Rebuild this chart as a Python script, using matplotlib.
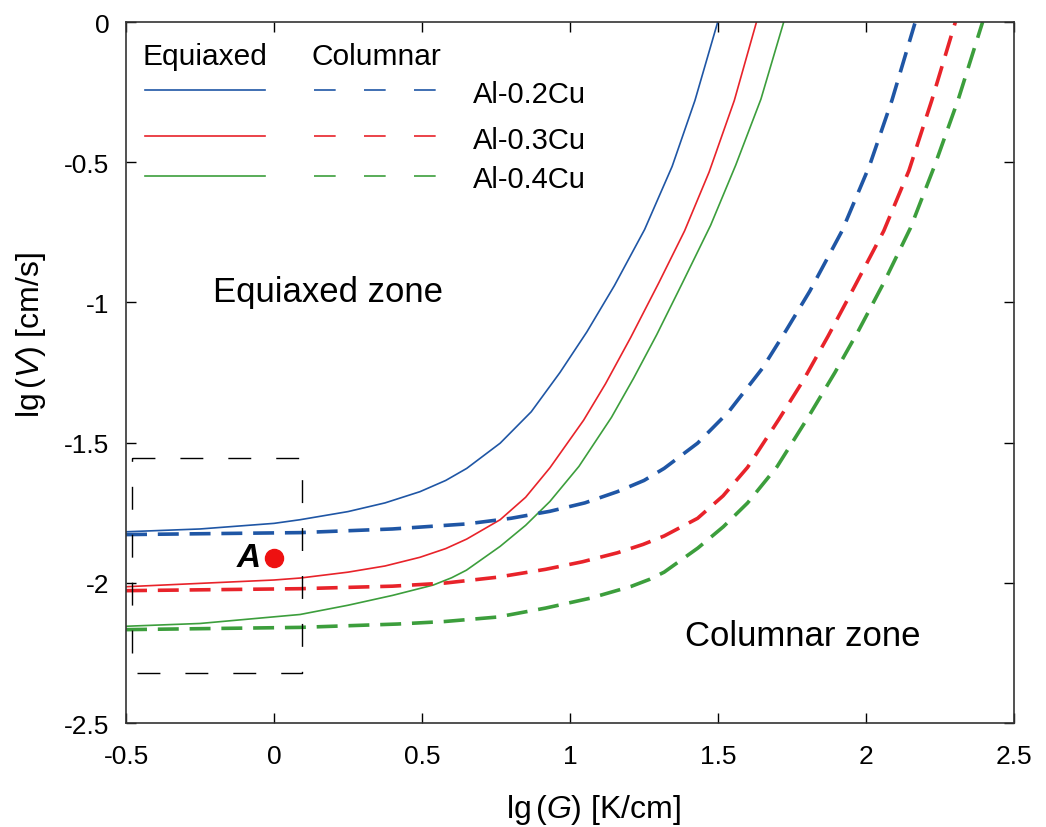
import matplotlib
matplotlib.use("Agg")
import matplotlib.pyplot as plt

plt.rcParams['font.family'] = ['Liberation Sans', 'DejaVu Sans']
plt.rcParams['mathtext.fontset'] = 'custom'
plt.rcParams['mathtext.rm'] = 'Liberation Sans'
plt.rcParams['mathtext.it'] = 'Liberation Sans:italic'

# ---- data (lg G, lg V) ----
alloys = ["Al-0.2Cu", "Al-0.3Cu", "Al-0.4Cu"]
colors = ["#1f56a5", "#e8232a", "#3c9e3c"]

# equiaxed limits (solid)
eq02_x = [-0.5, -0.25, 0.0, 0.088, 0.25, 0.375, 0.493, 0.58, 0.651, 0.764, 0.869, 0.966,
          1.057, 1.15, 1.252, 1.345, 1.422, 1.499]
eq02_y = [-1.818, -1.808, -1.788, -1.775, -1.746, -1.715, -1.675, -1.635, -1.592, -1.502,
          -1.39, -1.25, -1.105, -0.94, -0.74, -0.515, -0.28, 0.0]
eq03_x = [-0.5, 0.0, 0.088, 0.25, 0.375, 0.493, 0.58, 0.651, 0.764, 0.85, 0.932, 1.046,
          1.12, 1.205, 1.30, 1.387, 1.47, 1.555, 1.63]
eq03_y = [-2.014, -1.990, -1.983, -1.962, -1.94, -1.909, -1.878, -1.844, -1.775, -1.695,
          -1.59, -1.42, -1.29, -1.125, -0.93, -0.745, -0.535, -0.28, 0.0]
eq04_x = [-0.5, -0.25, 0.088, 0.25, 0.4, 0.538, 0.6, 0.65, 0.764, 0.85, 0.932, 1.03,
          1.14, 1.215, 1.293, 1.38, 1.475, 1.56, 1.645, 1.722]
eq04_y = [-2.155, -2.145, -2.113, -2.08, -2.045, -2.008, -1.982, -1.955, -1.87, -1.795,
          -1.71, -1.585, -1.41, -1.27, -1.115, -0.93, -0.725, -0.51, -0.275, 0.0]

# columnar limits (dashed)
co02_x = [-0.5, 0.088, 0.4, 0.651, 0.8, 0.932, 1.05, 1.16, 1.25, 1.318, 1.431, 1.536,
          1.65, 1.73, 1.81, 1.919, 2.012, 2.088, 2.165]
co02_y = [-1.828, -1.821, -1.808, -1.790, -1.770, -1.745, -1.715, -1.675, -1.635, -1.592,
          -1.502, -1.39, -1.235, -1.10, -0.96, -0.745, -0.512, -0.278, -0.005]
co03_x = [-0.5, 0.088, 0.4, 0.577, 0.755, 0.917, 1.042, 1.16, 1.247, 1.318, 1.431, 1.517,
          1.60, 1.705, 1.787, 1.872, 1.963, 2.06, 2.145, 2.222, 2.302]
co03_y = [-2.028, -2.021, -2.012, -2.001, -1.98, -1.952, -1.925, -1.893, -1.863, -1.833,
          -1.77, -1.69, -1.588, -1.418, -1.28, -1.12, -0.94, -0.745, -0.53, -0.28, 0.0]
co04_x = [-0.5, 0.088, 0.418, 0.577, 0.756, 0.918, 1.068, 1.206, 1.268, 1.318, 1.432, 1.518,
          1.60, 1.70, 1.806, 1.895, 1.975, 2.06, 2.15, 2.232, 2.312, 2.394]
co04_y = [-2.167, -2.159, -2.147, -2.138, -2.122, -2.09, -2.055, -2.013, -1.988, -1.962,
          -1.876, -1.80, -1.715, -1.585, -1.407, -1.25, -1.10, -0.93, -0.735, -0.512, -0.275, 0.0]

point_A = (0.0, -1.91)
box_x = [-0.481, 0.094]
box_y = [-2.322, -1.555]

xticks = [-0.5, 0, 0.5, 1, 1.5, 2, 2.5]
xticklabels = ["-0.5", "0", "0.5", "1", "1.5", "2", "2.5"]
yticks = [0, -0.5, -1, -1.5, -2, -2.5]
yticklabels = ["0", "-0.5", "-1", "-1.5", "-2", "-2.5"]

fig = plt.figure(figsize=(10.46, 8.28), dpi=100)
ax = fig.add_axes([0.1205, 0.1256, 0.8489, 0.8466])

eq = [(eq02_x, eq02_y), (eq03_x, eq03_y), (eq04_x, eq04_y)]
co = [(co02_x, co02_y), (co03_x, co03_y), (co04_x, co04_y)]
for (x, y), c in zip(eq, colors):
    ax.plot(x, y, color=c, lw=1.2, solid_joinstyle='round')
for (x, y), c in zip(co, colors):
    ax.plot(x, y, color=c, lw=2.6, dashes=(5.8, 3.0), dash_joinstyle='round')

# dashed box
bx = [box_x[0], box_x[1], box_x[1], box_x[0], box_x[0]]
by = [box_y[1], box_y[1], box_y[0], box_y[0], box_y[1]]
ax.plot(bx, by, color='black', lw=1.0, dashes=(16.5, 18))

ax.plot([point_A[0]], [point_A[1]], 'o', color='#ee1111', ms=13)
ax.text(point_A[0] - 0.045, point_A[1], "A", fontsize=24, fontstyle='italic',
        fontweight='bold', ha='right', va='center')

ax.text(-0.206, -0.995, "Equiaxed zone", fontsize=25, ha='left', va='baseline')
ax.text(1.389, -2.222, "Columnar zone", fontsize=25, ha='left', va='baseline')

# legend built as text
ax.text(-0.443, -0.150, "Equiaxed", fontsize=21.5, ha='left', va='baseline')
ax.text(0.125, -0.150, "Columnar", fontsize=21.5, ha='left', va='baseline')
leg_y = [-0.242, -0.408, -0.548]
for ly, c, name in zip(leg_y, colors, alloys):
    ax.plot([-0.436, -0.030], [ly, ly], color=c, lw=1.2)
    ax.plot([0.135, 0.547], [ly, ly], color=c, lw=1.2, dashes=(13, 17))
    ax.text(0.672, ly - 0.042, name, fontsize=21, ha='left', va='baseline')

ax.set_xlim(-0.5, 2.5)
ax.set_ylim(-2.5, 0)
ax.set_xticks(xticks)
ax.set_xticklabels(xticklabels)
ax.set_yticks(yticks)
ax.set_yticklabels(yticklabels)
ax.tick_params(direction='in', length=7, width=1, top=True, right=True,
               labelsize=19)
ax.tick_params(axis='x', pad=15)
ax.tick_params(axis='y', pad=12)
for s in ax.spines.values():
    s.set_linewidth(1.2)
    s.set_color('#333333')

ax.set_xlabel(r"lg$\,(\mathit{G})$ [K/cm]", fontsize=23)
ax.set_ylabel(r"lg$\,(\mathit{V})$ [cm/s]", fontsize=23)
ax.xaxis.set_label_coords(0.526, -0.098)
ax.yaxis.set_label_coords(-0.088, 0.555)

fig.savefig("out.png", dpi=100)
